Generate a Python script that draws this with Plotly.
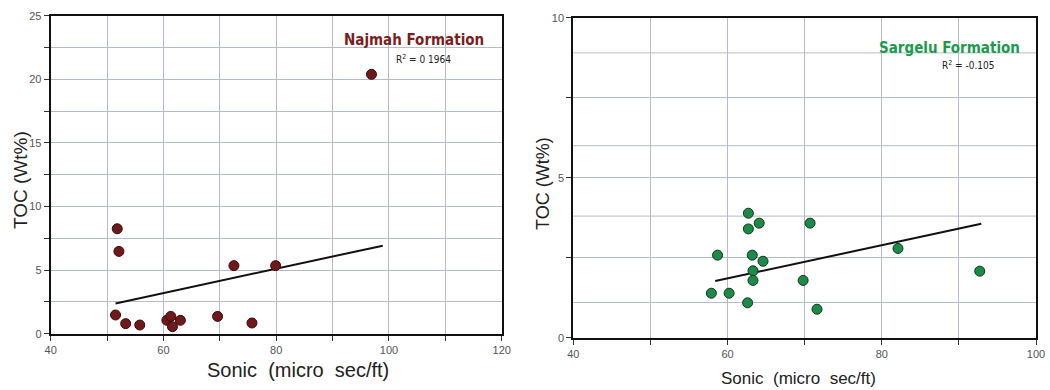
import plotly.graph_objects as go

# ---- Najmah Formation (left) ----
najmah_sonic = [51.8, 52.1, 51.5, 53.3, 55.8, 60.6, 61.3, 61.6, 63.0, 69.6, 72.5, 75.7, 79.9, 96.9]
najmah_toc = [8.25, 6.47, 1.47, 0.79, 0.68, 1.05, 1.36, 0.55, 1.05, 1.36, 5.35, 0.84, 5.35, 20.39]
najmah_trend_x = [51.5, 98.9]
najmah_trend_y = [2.38, 6.92]
najmah_label = "Najmah Formation"
najmah_r2 = "R<sup>2</sup> = 0 1964"

# ---- Sargelu Formation (right) ----
sargelu_sonic = [57.9, 58.7, 60.2, 62.6, 62.7, 62.7, 63.2, 63.3, 63.3, 64.1, 64.6, 69.8, 70.7, 71.6, 82.1, 92.7]
sargelu_toc = [1.39, 2.58, 1.39, 1.09, 3.89, 3.40, 2.58, 2.09, 1.79, 3.58, 2.39, 1.79, 3.58, 0.89, 2.79, 2.08]
sargelu_trend_x = [58.4, 92.9]
sargelu_trend_y = [1.77, 3.56]
sargelu_label = "Sargelu Formation"
sargelu_r2 = "R<sup>2</sup> = -0.105"
# extra (irregular) horizontal grid lines seen in the right panel
sargelu_extra_grid = [1.1, 3.8, 6.0, 8.9]

x_title = "Sonic\u00a0\u00a0(micro\u00a0\u00a0sec/ft)"
y_title = "TOC (Wt%)"

RED = "#6e1a1c"
RED_EDGE = "#3a0a0a"
GREEN = "#1e8a4a"
GREEN_EDGE = "#0b3a1c"
GRID = "#b4bccb"
TICKFONT = dict(family="Liberation Sans, Arial", size=11, color="#555555")
TITLEFAM = "Liberation Sans, Arial"
NARROW = "DejaVu Sans Condensed, DejaVu Sans"

fig = go.Figure()

fig.add_trace(go.Scatter(x=najmah_trend_x, y=najmah_trend_y, mode="lines",
                         line=dict(color="#111111", width=2), xaxis="x", yaxis="y",
                         showlegend=False, hoverinfo="skip"))
fig.add_trace(go.Scatter(x=najmah_sonic, y=najmah_toc, mode="markers",
                         marker=dict(color=RED, size=10, line=dict(color=RED_EDGE, width=1)),
                         xaxis="x", yaxis="y", showlegend=False))

fig.add_trace(go.Scatter(x=sargelu_trend_x, y=sargelu_trend_y, mode="lines",
                         line=dict(color="#111111", width=2), xaxis="x2", yaxis="y2",
                         showlegend=False, hoverinfo="skip"))
fig.add_trace(go.Scatter(x=sargelu_sonic, y=sargelu_toc, mode="markers",
                         marker=dict(color=GREEN, size=10, line=dict(color=GREEN_EDGE, width=1)),
                         xaxis="x2", yaxis="y2", showlegend=False))

common = dict(showline=True, linecolor="#111111", linewidth=2, mirror=True,
              ticks="outside", ticklen=5, tickcolor="#333333", tickwidth=1,
              showgrid=True, gridcolor=GRID, gridwidth=1, zeroline=False,
              tickfont=TICKFONT, fixedrange=True, layer="below traces", automargin=False)

minor_tick = dict(ticks="outside", ticklen=5, tickcolor="#333333", showgrid=True, gridcolor=GRID)

fig.update_layout(
    width=1050, height=390,
    margin=dict(l=0, r=0, t=0, b=0, autoexpand=False),
    paper_bgcolor="white", plot_bgcolor="white",
    xaxis=dict(domain=[0.0483, 0.4778], range=[40, 120], tickmode="linear", tick0=40, dtick=20,
               minor=dict(dtick=10, tick0=40, **minor_tick), anchor="y", **common),
    yaxis=dict(domain=[0.1444, 0.9597], range=[0, 25], tickmode="linear", tick0=0, dtick=5,
               minor=dict(dtick=2.5, tick0=0, **minor_tick), anchor="x", **common),
    xaxis2=dict(domain=[0.546, 0.9867], range=[40, 100], tickmode="linear", tick0=40, dtick=20,
                minor=dict(dtick=10, tick0=40, **minor_tick), anchor="y2", **common),
    yaxis2=dict(domain=[0.1341, 0.9546], range=[0, 10], tickmode="linear", tick0=0, dtick=5,
                minor=dict(dtick=2.5, tick0=0, **minor_tick), anchor="x2", **common),
)

for gy in sargelu_extra_grid:
    fig.add_shape(type="line", xref="x2 domain", yref="y2", x0=0, x1=1, y0=gy, y1=gy,
                  line=dict(color=GRID, width=1), layer="below")

ann = [
    dict(text=f"<b>{najmah_label}</b>", x=0.4625, y=0.897, xref="paper", yref="paper",
         xanchor="right", yanchor="middle", showarrow=False,
         font=dict(family=NARROW, size=15, color="#7a1e22")),
    dict(text=najmah_r2, x=0.4315, y=0.849, xref="paper", yref="paper",
         xanchor="right", yanchor="middle", showarrow=False,
         font=dict(family=NARROW, size=10, color="#222222")),
    dict(text=f"<b>{sargelu_label}</b>", x=0.9735, y=0.877, xref="paper", yref="paper",
         xanchor="right", yanchor="middle", showarrow=False,
         font=dict(family=NARROW, size=15, color="#1e9a4e")),
    dict(text=sargelu_r2, x=0.9495, y=0.833, xref="paper", yref="paper",
         xanchor="right", yanchor="middle", showarrow=False,
         font=dict(family=NARROW, size=10, color="#222222")),
    # axis titles
    dict(text=x_title, x=0.2838, y=1 - 370 / 390, xref="paper", yref="paper",
         xanchor="center", yanchor="middle", showarrow=False,
         font=dict(family=TITLEFAM, size=20, color="#222222")),
    dict(text=y_title, x=20 / 1050, y=1 - 180 / 390, xref="paper", yref="paper",
         xanchor="center", yanchor="middle", showarrow=False, textangle=-90,
         font=dict(family=TITLEFAM, size=19, color="#222222")),
    dict(text=x_title, x=798 / 1050, y=1 - 378 / 390, xref="paper", yref="paper",
         xanchor="center", yanchor="middle", showarrow=False,
         font=dict(family=TITLEFAM, size=17, color="#222222")),
    dict(text=y_title, x=543 / 1050, y=1 - 184 / 390, xref="paper", yref="paper",
         xanchor="center", yanchor="middle", showarrow=False, textangle=-90,
         font=dict(family=TITLEFAM, size=18, color="#222222")),
]
fig.update_layout(annotations=ann)

fig.write_html("out.html")
